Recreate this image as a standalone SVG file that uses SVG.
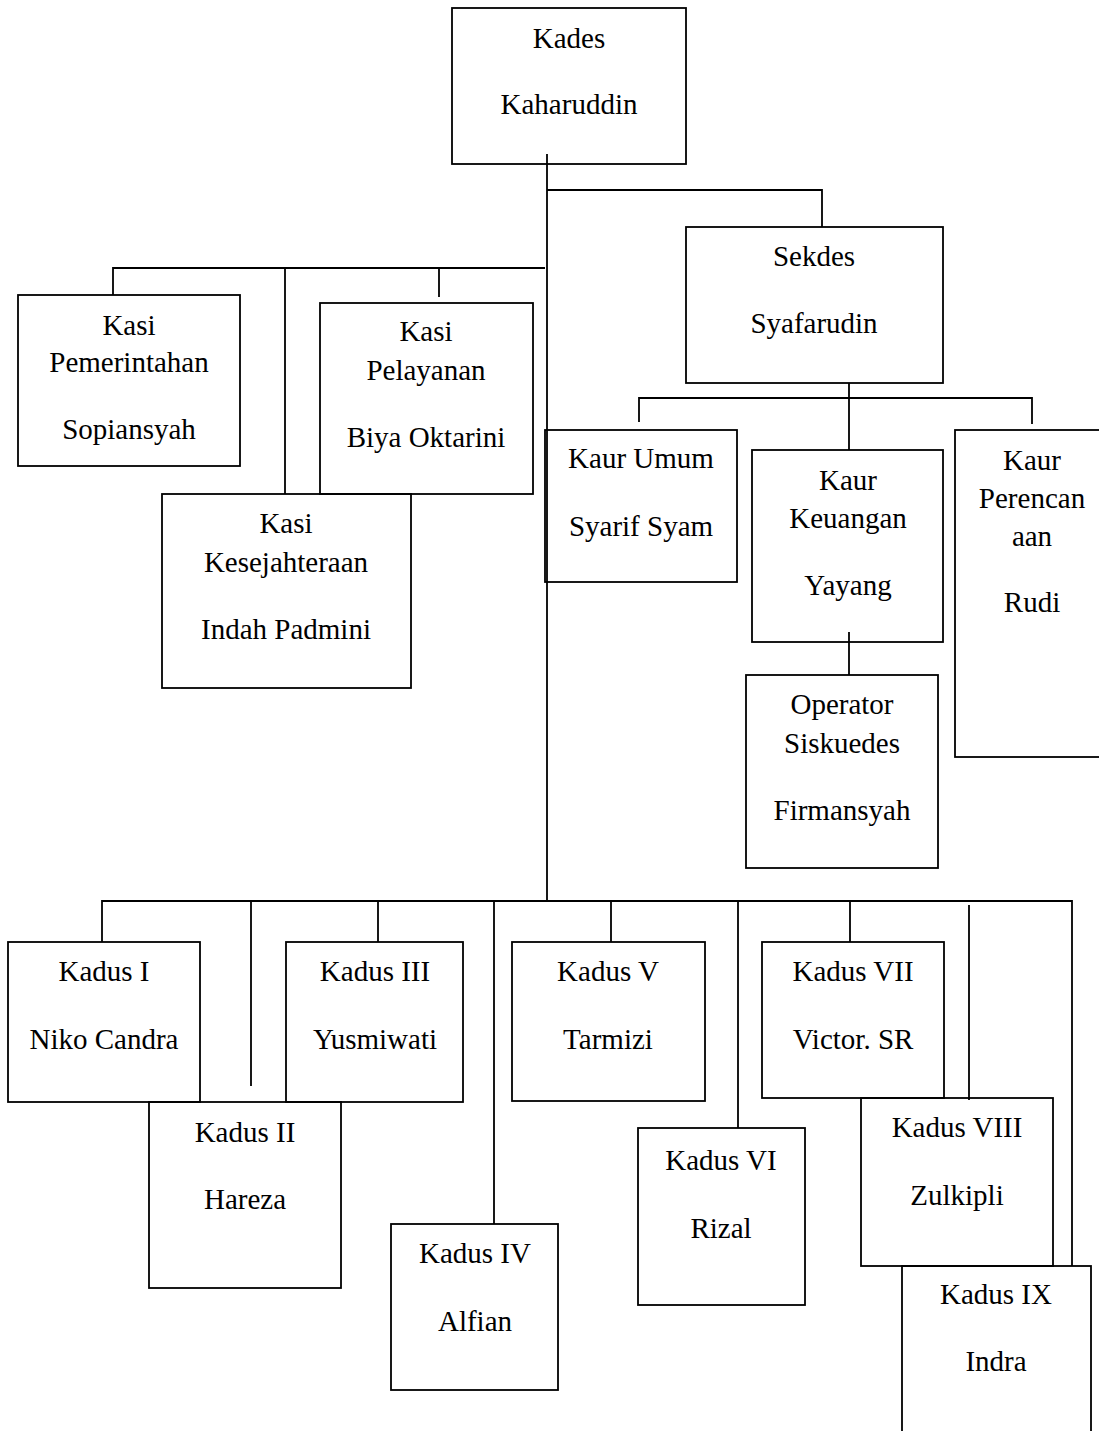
<svg xmlns="http://www.w3.org/2000/svg" width="1099" height="1431" viewBox="0 0 1099 1431">
<style>
.box{fill:none;stroke:#000;stroke-width:1.8}
.ln{fill:none;stroke:#000;stroke-width:1.8}
text{font-family:"Liberation Serif","Times New Roman",serif;font-size:29px;fill:#000;text-anchor:middle}
</style>
<rect width="1099" height="1431" fill="#fff"/>
<g id="connectors">
<path class="ln" d="M547,154V901 M547,190H822V227 M545,268H113V295 M285,268V494 M439,268V297 M849,383V450 M639,422V398H1032V424 M849,632V675 M102,942V901H1072V1266 M251,901V1086 M378,901V942 M494,901V1224 M611,901V942 M738,901V1128 M850,901V942 M969,905V1100"/>
</g>
<g id="kades"><rect class="box" x="452" y="8" width="234" height="156"/><text x="569" y="48">Kades</text><text x="569" y="114">Kaharuddin</text></g>
<g id="sekdes"><rect class="box" x="686" y="227" width="257" height="156"/><text x="814" y="266">Sekdes</text><text x="814" y="333">Syafarudin</text></g>
<g id="kasi-pemerintahan"><rect class="box" x="18" y="295" width="222" height="171"/><text x="129" y="335">Kasi</text><text x="129" y="372">Pemerintahan</text><text x="129" y="439">Sopiansyah</text></g>
<g id="kasi-pelayanan"><rect class="box" x="320" y="303" width="213" height="191"/><text x="426" y="341">Kasi</text><text x="426" y="380">Pelayanan</text><text x="426" y="447">Biya Oktarini</text></g>
<g id="kasi-kesejahteraan"><rect class="box" x="162" y="494" width="249" height="194"/><text x="286" y="533">Kasi</text><text x="286" y="572">Kesejahteraan</text><text x="286" y="639">Indah Padmini</text></g>
<g id="kaur-umum"><rect class="box" x="545" y="430" width="192" height="152"/><text x="641" y="468">Kaur Umum</text><text x="641" y="536">Syarif Syam</text></g>
<g id="kaur-keuangan"><rect class="box" x="752" y="450" width="191" height="192"/><text x="848" y="490">Kaur</text><text x="848" y="528">Keuangan</text><text x="848" y="595">Yayang</text></g>
<g id="operator"><rect class="box" x="746" y="675" width="192" height="193"/><text x="842" y="714">Operator</text><text x="842" y="753">Siskuedes</text><text x="842" y="820">Firmansyah</text></g>
<g id="kaur-perencanaan"><rect class="box" x="955" y="430" width="160" height="327"/><text x="1032" y="470">Kaur</text><text x="1032" y="508">Perencan</text><text x="1032" y="546">aan</text><text x="1032" y="612">Rudi</text></g>
<g id="kadus-1"><rect class="box" x="8" y="942" width="192" height="160"/><text x="104" y="981">Kadus I</text><text x="104" y="1049">Niko Candra</text></g>
<g id="kadus-3"><rect class="box" x="286" y="942" width="177" height="160"/><text x="375" y="981">Kadus III</text><text x="375" y="1049">Yusmiwati</text></g>
<g id="kadus-2"><rect class="box" x="149" y="1102" width="192" height="186"/><text x="245" y="1142">Kadus II</text><text x="245" y="1209">Hareza</text></g>
<g id="kadus-4"><rect class="box" x="391" y="1224" width="167" height="166"/><text x="475" y="1263">Kadus IV</text><text x="475" y="1331">Alfian</text></g>
<g id="kadus-5"><rect class="box" x="512" y="942" width="193" height="159"/><text x="608" y="981">Kadus V</text><text x="608" y="1049">Tarmizi</text></g>
<g id="kadus-6"><rect class="box" x="638" y="1128" width="167" height="177"/><text x="721" y="1170">Kadus VI</text><text x="721" y="1238">Rizal</text></g>
<g id="kadus-7"><rect class="box" x="762" y="942" width="182" height="156"/><text x="853" y="981">Kadus VII</text><text x="853" y="1049">Victor. SR</text></g>
<g id="kadus-8"><rect class="box" x="861" y="1098" width="192" height="168"/><text x="957" y="1137">Kadus VIII</text><text x="957" y="1205">Zulkipli</text></g>
<g id="kadus-9"><rect class="box" x="902" y="1266" width="189" height="180"/><text x="996" y="1304">Kadus IX</text><text x="996" y="1371">Indra</text></g>
</svg>
